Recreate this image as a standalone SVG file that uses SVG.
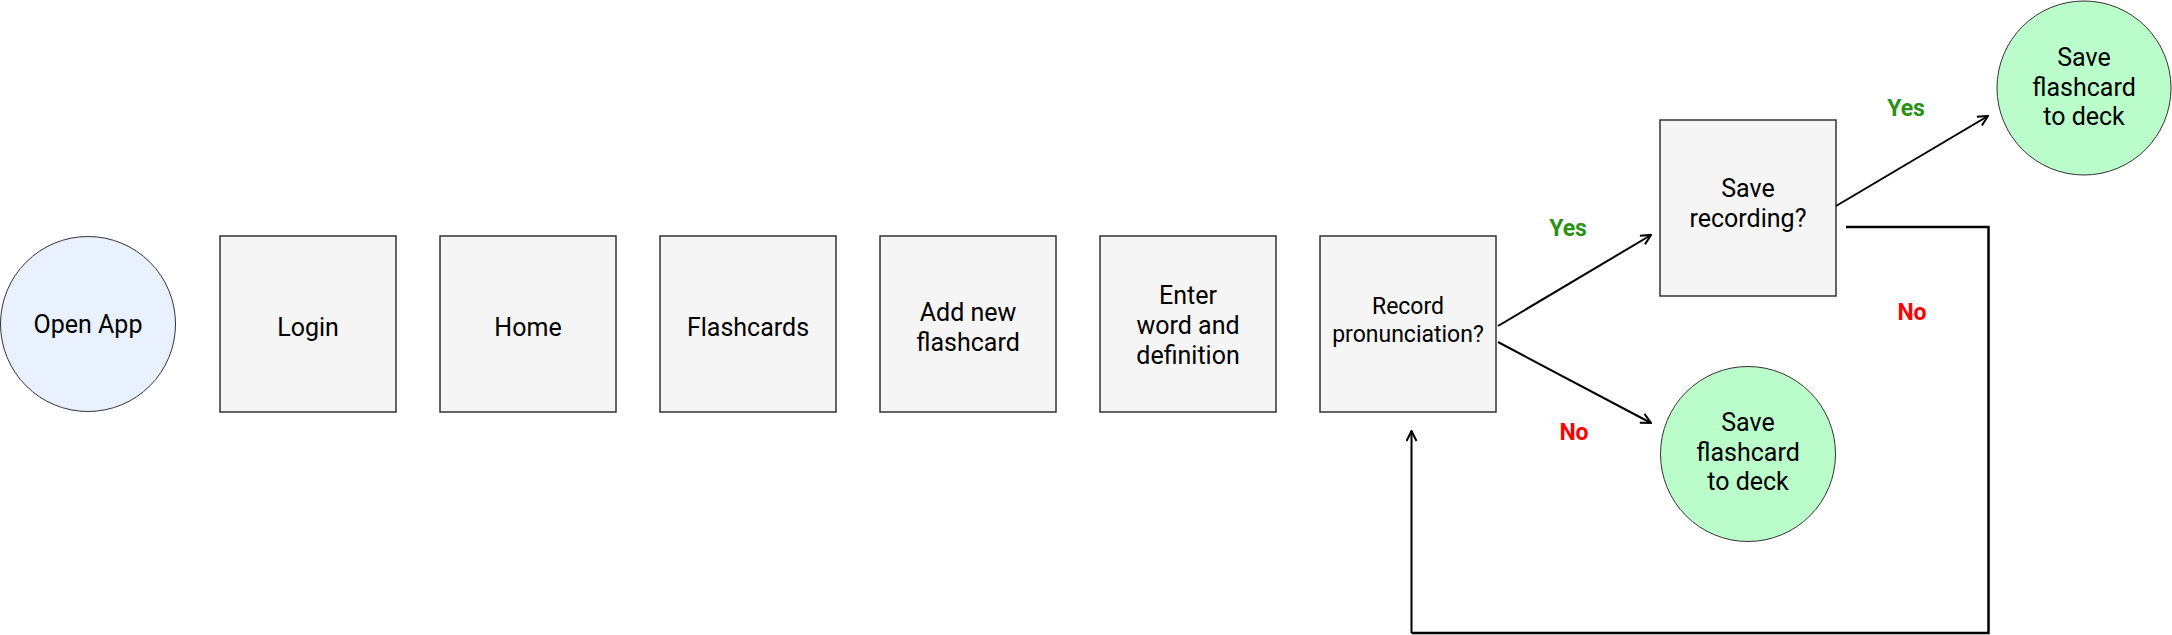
<svg xmlns="http://www.w3.org/2000/svg" width="2172" height="635" viewBox="0 0 2172 635">
<defs>
<style>
.box{fill:#f5f5f5;stroke:#333;stroke-width:1.5}
.start{fill:#e9f1fe;stroke:#333;stroke-width:1}
.end{fill:#bbfccb;stroke:#333;stroke-width:1}
.t{font-family:Roboto,"Liberation Sans",sans-serif;font-size:25px;fill:#000;text-anchor:middle}
.ts{font-family:Roboto,"Liberation Sans",sans-serif;font-size:23px;fill:#000;text-anchor:middle}
.yes{font-family:Roboto,"Liberation Sans",sans-serif;font-size:23px;font-weight:bold;fill:#2a9113;text-anchor:middle}
.no{font-family:Roboto,"Liberation Sans",sans-serif;font-size:23px;font-weight:bold;fill:#ff0000;text-anchor:middle}
.c{fill:none;stroke:#000;stroke-width:2}
.fb{fill:none;stroke:#000;stroke-width:2.5}
</style>
<marker id="a" viewBox="0 0 12 12" refX="11" refY="6" markerWidth="12" markerHeight="12" markerUnits="userSpaceOnUse" orient="auto">
<path d="M1,1 L11,6 L1,11" fill="none" stroke="#000" stroke-width="2"/>
</marker>
</defs>
<rect width="2172" height="635" fill="#fff"/>
<g id="open-app"><circle class="start" cx="88" cy="324" r="87.5"/><text class="t" x="88" y="333">Open App</text></g>
<g id="login"><rect class="box" x="220" y="236" width="176" height="176"/><text class="t" x="308" y="336">Login</text></g>
<g id="home"><rect class="box" x="440" y="236" width="176" height="176"/><text class="t" x="528" y="336">Home</text></g>
<g id="flashcards"><rect class="box" x="660" y="236" width="176" height="176"/><text class="t" x="748" y="336">Flashcards</text></g>
<g id="add-new"><rect class="box" x="880" y="236" width="176" height="176"/><text class="t" x="968" y="321">Add new</text><text class="t" x="968" y="351">flashcard</text></g>
<g id="enter-word"><rect class="box" x="1100" y="236" width="176" height="176"/><text class="t" x="1188" y="304">Enter</text><text class="t" x="1188" y="334">word and</text><text class="t" x="1188" y="364">definition</text></g>
<g id="record"><rect class="box" x="1320" y="236" width="176" height="176"/><text class="ts" x="1408" y="314">Record</text><text class="ts" x="1408" y="342">pronunciation?</text></g>
<g id="save-recording"><rect class="box" x="1660" y="120" width="176" height="176"/><text class="t" x="1748" y="197">Save</text><text class="t" x="1748" y="227">recording?</text></g>
<g id="save-deck-1"><circle class="end" cx="2084" cy="88" r="87"/><text class="t" x="2084" y="66">Save</text><text class="t" x="2084" y="96">flashcard</text><text class="t" x="2084" y="125">to deck</text></g>
<g id="save-deck-2"><circle class="end" cx="1748" cy="454" r="87.5"/><text class="t" x="1748" y="431">Save</text><text class="t" x="1748" y="461">flashcard</text><text class="t" x="1748" y="490">to deck</text></g>
<g id="connectors">
<line class="c" x1="1498" y1="326" x2="1651" y2="235" marker-end="url(#a)"/>
<line class="c" x1="1498" y1="342" x2="1651" y2="423" marker-end="url(#a)"/>
<line class="c" x1="1836" y1="206" x2="1988" y2="116" marker-end="url(#a)"/>
<polyline class="fb" points="1846,227 1988.5,227 1988.5,633 1411.5,633"/>
<line class="c" x1="1411.5" y1="633" x2="1411.5" y2="431" marker-end="url(#a)"/>
<text class="yes" x="1568" y="236">Yes</text>
<text class="no" x="1574" y="440">No</text>
<text class="yes" x="1906" y="116">Yes</text>
<text class="no" x="1912" y="320">No</text>
</g>
</svg>
